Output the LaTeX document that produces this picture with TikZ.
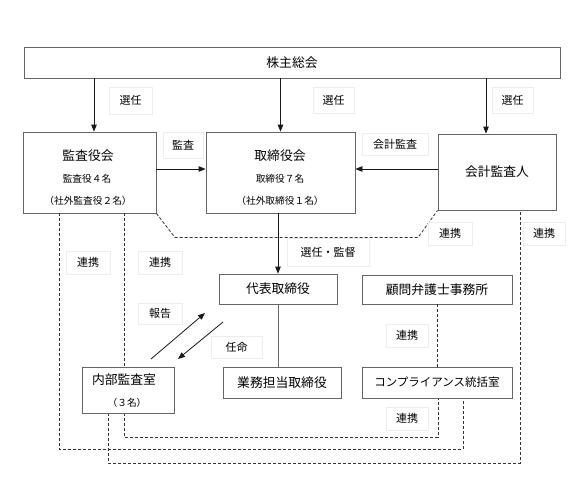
\documentclass[tikz,border=0pt]{standalone}
\usepackage{fontspec}
\setmainfont{Noto Sans CJK JP}
\usetikzlibrary{arrows.meta}
\begin{document}
\begin{tikzpicture}[x=1pt,y={(0pt,-1pt)},
  box/.style={draw=black!60, line width=0.8pt, fill=white, inner sep=0pt, text=black, font=\fontsize{12.8}{14}\selectfont},
  lab/.style={draw=black!7, line width=0.6pt, fill=white, inner sep=0pt, text=black, font=\fontsize{11}{12}\selectfont},
  big/.style={inner sep=0pt, text=black, font=\fontsize{12.8}{14}\selectfont},
  small/.style={inner sep=0pt, text=black, font=\fontsize{9.7}{11}\selectfont},
  arr/.style={-{Triangle[length=7pt,width=5.5pt]}, line width=0.8pt, black!90},
  plain/.style={line width=0.7pt, black!60},
  dline/.style={dash pattern=on 3pt off 2pt, line width=0.8pt, black!80}]
\useasboundingbox (0,0) rectangle (584,483);
\fill[white] (0,0) rectangle (584,483);

% coordinates
\coordinate (s1) at (94,0);
\coordinate (s3) at (486,0);
\coordinate (h1) at (0,169);
\coordinate (d1a) at (175,237.5);
\coordinate (d1b) at (418,237.5);
\coordinate (L2a) at (59,449);
\coordinate (L2b) at (463,449);
\coordinate (L3a) at (124,437);
\coordinate (L3b) at (438,437);
\coordinate (L4a) at (108,463);
\coordinate (L4b) at (520,463);
\coordinate (r1) at (151,359);
\coordinate (r2) at (205,313);
\coordinate (n1) at (223,322);
\coordinate (n2) at (178,359);

% main boxes (positions)
\node[box, minimum width=536pt, minimum height=31pt] (top) at (292,62.5) {株主総会};
\node[box, minimum width=133pt, minimum height=81pt] (kansa) at (89.5,172.5) {};
\node[box, minimum width=149pt, minimum height=81pt] (tori) at (280.5,172.5) {};
\node[box, minimum width=118pt, minimum height=76pt] (kaikei) at (497,172) {会計監査人};
\node[box, minimum width=118pt, minimum height=30pt] (daihyo) at (278,289) {代表取締役};
\node[box, minimum width=150pt, minimum height=29pt] (komon) at (437,289.5) {顧問弁護士事務所};

% dashed connectors (behind lower boxes)
\draw[dline] (kansa.south east) -- (d1a) -- (d1b) -- (kaikei.south west);
\draw[dline] (kansa.south -| L2a) -- (L2a) -- (L2b) -- (L2b |- 0,398);
\draw[dline] (kansa.south -| L3a) -- (L3a) -- (L3b) -- (L3b |- 0,398);
\draw[dline] (L4a |- 0,413) -- (L4a) -- (L4b) -- (kaikei.south -| L4b);
\draw[dline] (komon.south) -- (437,367);

\node[box, minimum width=118pt, minimum height=31pt] (gyomu) at (282,382.5) {業務担当取締役};
\node[box, minimum width=92pt, minimum height=46pt] (naibu) at (128,390) {};
\node[box, minimum width=150pt, minimum height=31pt, font=\fontsize{11.5}{13}\selectfont] (comp) at (437,382.5) {コンプライアンス統括室};

% texts inside multi-line boxes
\node[big] (kansaT1) at (88,156) {監査役会};
\node[small] (kansaT2) at (87,179) {監査役４名};
\node[small] (kansaT3) at (88,201) {（社外監査役２名）};
\node[big] (toriT1) at (280,156) {取締役会};
\node[small] (toriT2) at (280,179) {取締役７名};
\node[small] (toriT3) at (280,201) {（社外取締役１名）};
\node[big] (naibuT1) at (124,380) {内部監査室};
\node[small] (naibuT2) at (127,403) {（３名）};

% solid connectors
\draw[arr] (top.south -| s1) -- (kansa.north -| s1);
\draw[arr] (top.south -| tori.north) -- (tori.north);
\draw[arr] (top.south -| s3) -- (kaikei.north -| s3);
\draw[arr] (kansa.east |- h1) -- (tori.west |- h1);
\draw[arr] (kaikei.west |- h1) -- (tori.east |- h1);
\draw[arr] (tori.south -| daihyo.north) -- (daihyo.north);
\draw[plain] (daihyo.south) -- (daihyo.south |- gyomu.north);
\draw[arr] (r1) -- (r2);
\draw[arr] (n1) -- (n2);

% labels
\node[lab, minimum width=43pt, minimum height=27pt] (l1) at (130.5,100.5) {選任};
\node[lab, minimum width=41pt, minimum height=26pt] (l2) at (333.5,100) {選任};
\node[lab, minimum width=41pt, minimum height=26pt] (l3) at (512.5,100) {選任};
\node[lab, minimum width=40pt, minimum height=26pt] (l4) at (183,145) {監査};
\node[lab, minimum width=66pt, minimum height=22pt] (l5) at (395,144) {会計監査};
\node[lab, minimum width=44pt, minimum height=23pt] (l6) at (88,262.5) {連携};
\node[lab, minimum width=44pt, minimum height=23pt] (l7) at (160,262.5) {連携};
\node[lab, minimum width=44pt, minimum height=23pt] (l8) at (450,233.5) {連携};
\node[lab, minimum width=42pt, minimum height=23pt] (l9) at (544,233.5) {連携};
\node[lab, minimum width=82pt, minimum height=28pt] (l10) at (328,252.5) {選任・監督};
\node[lab, minimum width=44pt, minimum height=21pt] (l11) at (160,313.5) {報告};
\node[lab, minimum width=51pt, minimum height=22pt] (l12) at (236.5,347) {任命};
\node[lab, minimum width=42pt, minimum height=23pt] (l13) at (407,335.5) {連携};
\node[lab, minimum width=42pt, minimum height=23pt] (l14) at (407,418.5) {連携};
\end{tikzpicture}
\end{document}
